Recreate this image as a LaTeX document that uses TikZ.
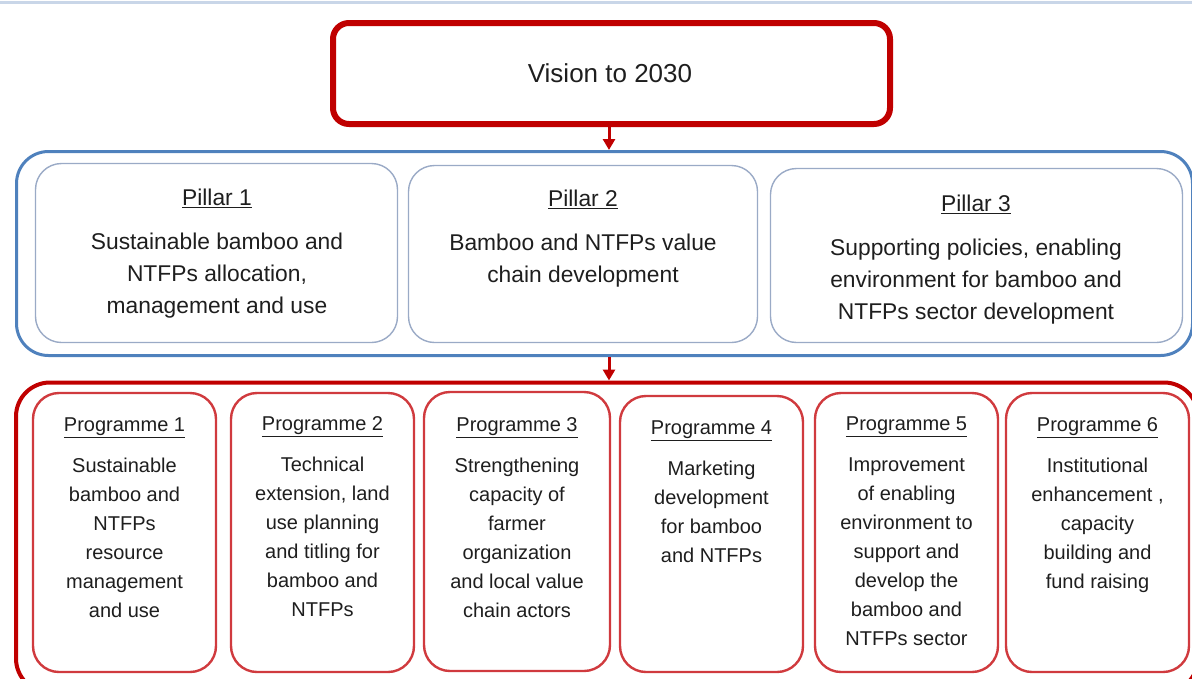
\documentclass[tikz,border=0pt]{standalone}
\usepackage{fontspec}
\setmainfont{Liberation Sans}
\usetikzlibrary{arrows.meta}
\definecolor{vred}{HTML}{C00000}
\definecolor{pblue}{HTML}{4F81BD}
\definecolor{pgray}{HTML}{9AAAC6}
\definecolor{prred}{HTML}{D03A3E}
\definecolor{txtc}{HTML}{1E1E1E}
\definecolor{topline}{HTML}{C9D6E8}
\begin{document}
\begin{tikzpicture}[x=1pt,y=-1pt,
  visionbox/.style={draw=vred, line width=6pt, rounded corners=16pt, inner sep=0pt, minimum width=557pt, minimum height=101pt},
  blueouter/.style={draw=pblue, line width=3pt, rounded corners=32pt, inner sep=0pt},
  redouter/.style={draw=vred, line width=4pt, rounded corners=34pt, inner sep=0pt},
  pillarbox/.style={draw=pgray, line width=1.4pt, rounded corners=26pt, inner sep=0pt},
  progbox/.style={draw=prred, line width=2.4pt, rounded corners=26pt, inner sep=0pt, minimum width=183pt, minimum height=279pt},
  pillartxt/.style={anchor=north, inner sep=0pt, align=center, text=txtc, font=\fontsize{22.8}{32}\selectfont},
  progtxt/.style={anchor=north, inner sep=0pt, align=center, text=txtc, font=\fontsize{20}{29}\selectfont},
  link/.style={draw=vred, line width=3pt, -{Triangle[length=11pt,width=12pt]}}
]
\useasboundingbox (0,0) rectangle (1192,678);
\draw[topline, line width=3pt] (0,2) -- (1192,2);

\node[visionbox] (vision) at (611.5,73.5) {};
\node[inner sep=0pt, text=txtc, font=\fontsize{26}{30}\selectfont] (visiont) at (610,73) {Vision to 2030};

\node[blueouter, minimum width=1176pt, minimum height=204pt] (blue) at (604.5,253.5) {};
\node[pillarbox, minimum width=362pt, minimum height=179pt] (pil1) at (216.5,253) {};
\node[pillarbox, minimum width=349pt, minimum height=177pt] (pil2) at (583,254) {};
\node[pillarbox, minimum width=412pt, minimum height=174pt] (pil3) at (976.5,255.5) {};

\node[pillartxt] (pil1t) at (217,189) {\underline{Pillar 1}\\[12pt]Sustainable bamboo and\\NTFPs allocation,\\management and use};
\node[pillartxt] (pil2t) at (583,190) {\underline{Pillar 2}\\[12pt]Bamboo and NTFPs value\\chain development};
\node[pillartxt] (pil3t) at (976,195) {\underline{Pillar 3}\\[12pt]Supporting policies, enabling\\environment for bamboo and\\NTFPs sector development};

\node[redouter, minimum width=1182pt, minimum height=310pt] (red) at (607,537.5) {};

\node[progbox] (pr1) at (124.5,532.5) {};
\node[progbox] (pr2) at (322.5,532.5) {};
\node[progbox, minimum width=186pt] (pr3) at (517,531.5) {};
\node[progbox, minimum height=276pt] (pr4) at (711.5,534) {};
\node[progbox] (pr5) at (906.5,532.5) {};
\node[progbox] (pr6) at (1097.5,532.5) {};

\node[progtxt] (pr1t) at (124.5,418) {\underline{Programme 1}\\[12pt]Sustainable\\bamboo and\\NTFPs\\resource\\management\\and use};
\node[progtxt] (pr2t) at (322.5,416) {\underline{Programme 2}\\[12pt]Technical\\extension, land\\use planning\\and titling for\\bamboo and\\NTFPs};
\node[progtxt] (pr3t) at (517,417) {\underline{Programme 3}\\[12pt]Strengthening\\capacity of\\farmer\\organization\\and local value\\chain actors};
\node[progtxt] (pr4t) at (711.5,421) {\underline{Programme 4}\\[12pt]Marketing\\development\\for bamboo\\and NTFPs};
\node[progtxt] (pr5t) at (906.5,417) {\underline{Programme 5}\\[12pt]Improvement\\of enabling\\environment to\\support and\\develop the\\bamboo and\\NTFPs sector};
\node[progtxt] (pr6t) at (1097.5,417) {\underline{Programme 6}\\[12pt]Institutional\\enhancement ,\\capacity\\building and\\fund raising};

\coordinate (ax) at (609,0);
\draw[link] (vision.south -| ax) -- (blue.north -| ax);
\draw[link] (blue.south -| ax) -- (red.north -| ax);
\end{tikzpicture}
\end{document}
